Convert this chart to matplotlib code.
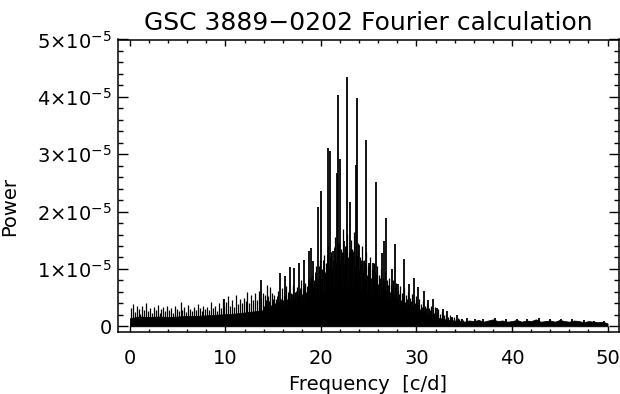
import numpy as np
import matplotlib
matplotlib.use("Agg")
import matplotlib.pyplot as plt
from matplotlib.ticker import FixedLocator, FixedFormatter, MultipleLocator

# ---- data (power in units of 1e-5) ----
# upper edge of the solid noise floor
env_freq = [0, 1, 2, 3, 4, 5, 6, 7, 8, 9, 10, 11, 12, 13, 14, 15, 16, 17, 18, 19,
            20, 21, 22, 23, 24, 25, 26, 27, 28, 29, 30, 31, 32, 33, 34, 34.5, 35,
            35.5, 36, 36.5, 37, 37.5, 38, 38.5, 39, 39.5, 40, 40.5, 41, 41.5, 42,
            42.5, 43, 43.5, 44, 44.5, 45, 45.5, 46, 46.5, 47, 47.5, 48, 48.5, 49,
            49.5, 50]
env_pow = [0.14, 0.17, 0.16, 0.17, 0.16, 0.17, 0.18, 0.18, 0.19, 0.20, 0.21, 0.22,
           0.24, 0.26, 0.28, 0.31, 0.34, 0.38, 0.42, 0.46, 0.54, 0.62, 0.70, 0.70,
           0.64, 0.58, 0.52, 0.45, 0.38, 0.32, 0.27, 0.21, 0.16, 0.12, 0.10, 0.09,
           0.08, 0.10, 0.09, 0.11, 0.08, 0.10, 0.12, 0.09, 0.10, 0.08, 0.09, 0.11,
           0.08, 0.10, 0.09, 0.12, 0.08, 0.09, 0.10, 0.08, 0.11, 0.09, 0.08, 0.10,
           0.09, 0.07, 0.09, 0.08, 0.07, 0.08, 0.05]

# dense background of small peaks
bg_freq = [0.1, 0.3, 0.5, 0.7, 0.9, 1.1, 1.3, 1.5, 1.7, 1.9,
           2.1, 2.3, 2.5, 2.7, 2.9, 3.1, 3.3, 3.5, 3.7, 3.9,
           4.1, 4.3, 4.5, 4.7, 4.9, 5.1, 5.3, 5.5, 5.7, 5.9,
           6.1, 6.3, 6.5, 6.7, 6.9, 7.1, 7.3, 7.5, 7.7, 7.9,
           8.1, 8.3, 8.5, 8.7, 8.9, 9.1, 9.3, 9.5, 9.7, 9.9,
           10.1, 10.3, 10.5, 10.7, 10.9, 11.1, 11.3, 11.5, 11.7, 11.9,
           12.1, 12.3, 12.5, 12.7, 12.9, 13.1, 13.3, 13.5, 13.7, 13.9,
           14.1, 14.3, 14.5, 14.7, 14.9, 15.1, 15.3, 15.5, 15.7, 15.9,
           16.1, 16.3, 16.5, 16.7, 16.9, 17.1, 17.3, 17.5, 17.7, 17.9,
           18.1, 18.3, 18.5, 18.7, 18.9, 19.1, 19.3, 19.5, 19.7, 19.9,
           20.1, 20.3, 20.5, 20.7, 20.9, 21.1, 21.3, 21.5, 21.7, 21.9,
           22.1, 22.3, 22.5, 22.7, 22.9, 23.1, 23.3, 23.5, 23.7, 23.9,
           24.1, 24.3, 24.5, 24.7, 24.9, 25.1, 25.3, 25.5, 25.7, 25.9,
           26.1, 26.3, 26.5, 26.7, 26.9, 27.1, 27.3, 27.5, 27.7, 27.9,
           28.1, 28.3, 28.5, 28.7, 28.9, 29.1, 29.3, 29.5, 29.7, 29.9,
           30.1, 30.3, 30.5, 30.7, 30.9, 31.1, 31.3, 31.5, 31.7, 31.9,
           32.1, 32.3, 32.5, 32.7, 32.9, 33.1, 33.3, 33.5, 33.7, 33.9,
           34.1, 34.3, 34.5, 34.7, 34.9]
bg_pow = [0.32, 0.38, 0.25, 0.36, 0.30, 0.22, 0.35, 0.28, 0.40, 0.26,
          0.31, 0.24, 0.34, 0.29, 0.37, 0.23, 0.30, 0.33, 0.26, 0.35,
          0.28, 0.32, 0.24, 0.36, 0.30, 0.27, 0.42, 0.29, 0.33, 0.25,
          0.37, 0.30, 0.26, 0.34, 0.28, 0.39, 0.31, 0.27, 0.36, 0.30,
          0.33, 0.28, 0.43, 0.31, 0.36, 0.27, 0.40, 0.32, 0.48, 0.35,
          0.42, 0.52, 0.36, 0.45, 0.33, 0.55, 0.38, 0.47, 0.40, 0.50,
          0.44, 0.60, 0.41, 0.54, 0.46, 0.58, 0.45, 0.62, 0.50, 0.58,
          0.55, 0.72, 0.52, 0.68, 0.58, 0.55, 0.48, 0.62, 0.50, 0.66,
          0.52, 0.70, 0.55, 0.64, 0.58, 0.72, 0.60, 0.68, 0.62, 0.80,
          0.66, 0.75, 0.70, 0.85, 0.78, 0.90, 0.80, 1.05, 0.85, 1.15,
          1.00, 1.25, 1.10, 1.40, 1.20, 1.30, 1.15, 1.55, 1.25, 1.45,
          1.35, 1.70, 1.40, 1.60, 1.30, 1.50, 1.35, 1.65, 1.25, 1.45,
          1.20, 1.40, 1.15, 1.30, 1.05, 1.20, 1.00, 1.10, 0.95, 1.05,
          0.90, 1.00, 0.85, 0.95, 0.80, 0.85, 0.72, 0.80, 0.68, 0.75,
          0.62, 0.70, 0.58, 0.66, 0.55, 0.60, 0.50, 0.56, 0.46, 0.52,
          0.42, 0.48, 0.38, 0.44, 0.35, 0.40, 0.32, 0.36, 0.28, 0.33,
          0.25, 0.30, 0.22, 0.26, 0.20, 0.22, 0.17, 0.19, 0.15, 0.16,
          0.13, 0.15, 0.12, 0.13, 0.11]

# second interleaved background set in the active region
bg2_freq = [14.0, 14.2, 14.4, 14.6, 14.8, 15.0, 15.2, 15.4, 15.6, 15.8,
            16.0, 16.2, 16.4, 16.6, 16.8, 17.0, 17.2, 17.4, 17.6, 17.8,
            18.0, 18.2, 18.4, 18.6, 18.8, 19.0, 19.2, 19.4, 19.6, 19.8,
            20.0, 20.2, 20.4, 20.6, 20.8, 21.0, 21.2, 21.4, 21.6, 21.8,
            22.0, 22.2, 22.4, 22.6, 22.8, 23.0, 23.2, 23.4, 23.6, 23.8,
            24.0, 24.2, 24.4, 24.6, 24.8, 25.0, 25.2, 25.4, 25.6, 25.8,
            26.0, 26.2, 26.4, 26.6, 26.8, 27.0, 27.2, 27.4, 27.6, 27.8,
            28.0, 28.2, 28.4, 28.6, 28.8, 29.0, 29.2, 29.4, 29.6, 29.8,
            30.0, 30.2, 30.4, 30.6, 30.8, 31.0, 31.2, 31.4, 31.6, 31.8, 32.0]
bg2_pow = [0.36, 0.45, 0.38, 0.44, 0.37, 0.48, 0.40, 0.52, 0.42, 0.47,
           0.45, 0.55, 0.47, 0.60, 0.48, 0.57, 0.50, 0.62, 0.53, 0.66,
           0.56, 0.70, 0.60, 0.80, 0.66, 0.86, 0.70, 0.95, 0.78, 1.05,
           0.85, 1.15, 0.95, 1.25, 1.05, 1.30, 1.02, 1.38, 1.12, 1.45,
           1.15, 1.30, 1.08, 1.42, 1.20, 1.35, 1.12, 1.32, 1.05, 1.22,
           1.00, 1.15, 0.95, 1.08, 0.90, 1.05, 0.85, 0.98, 0.80, 0.90,
           0.74, 0.85, 0.68, 0.78, 0.63, 0.72, 0.60, 0.67, 0.54, 0.61,
           0.50, 0.57, 0.46, 0.53, 0.42, 0.47, 0.38, 0.44, 0.35, 0.40,
           0.33, 0.37, 0.30, 0.34, 0.27, 0.31, 0.24, 0.28, 0.22, 0.24, 0.19]

# prominent peaks
spike_freq = [9.8, 13.7, 15.7, 16.25, 16.77, 17.2, 17.75, 18.24, 18.7, 18.94, 19.2,
              19.74, 19.99, 20.72, 20.96, 21.24, 21.67, 21.74, 22.01, 22.36, 22.75,
              23.06, 23.69, 23.76, 24.0, 24.4, 24.74, 24.98, 25.44, 25.79, 26.38,
              26.6, 26.83, 27.4, 27.74, 28.1, 28.72, 29.2, 29.7, 30.2, 30.74, 31.2,
              31.7, 32.1, 32.8, 33.2, 33.7, 34.2, 34.8, 35.3, 36.1, 37.0, 38.2,
              39.4, 40.5, 41.6, 42.8, 44.0, 45.1, 46.3, 47.5, 48.6, 49.6]
spike_pow = [0.48, 0.80, 0.93, 0.87, 1.03, 1.02, 1.10, 1.16, 1.31, 1.37, 1.13,
             2.08, 2.35, 3.11, 3.05, 1.31, 2.67, 4.04, 2.92, 1.48, 4.34,
             2.16, 2.82, 3.98, 1.42, 1.13, 3.24, 1.10, 1.10, 2.52, 1.28,
             1.48, 1.89, 0.99, 1.44, 0.73, 1.18, 0.73, 0.84, 0.69, 0.62, 0.45,
             0.47, 0.32, 0.30, 0.26, 0.17, 0.19, 0.12, 0.14, 0.13, 0.12, 0.14,
             0.12, 0.13, 0.12, 0.14, 0.12, 0.13, 0.12, 0.11, 0.10, 0.09]

x_ticks = [0, 10, 20, 30, 40, 50]
y_ticks = [0, 1e-5, 2e-5, 3e-5, 4e-5, 5e-5]
y_ticklabels = ['0', '1×10$^{-5}$', '2×10$^{-5}$', '3×10$^{-5}$',
                '4×10$^{-5}$', '5×10$^{-5}$']

plt.rcParams['font.family'] = ['DejaVu Sans']
plt.rcParams['mathtext.default'] = 'regular'

fig = plt.figure(figsize=(6.2, 3.94), dpi=100)
ax = fig.add_axes([117.5 / 620, (394 - 332) / 394, (619 - 117.5) / 620, (332 - 39.5) / 394])

scale = 1e-5
ax.fill_between(np.array(env_freq), 0, np.array(env_pow) * scale,
                color='black', lw=0.6, edgecolor='black')
ax.vlines(bg_freq, 0, np.array(bg_pow) * scale, color='black', lw=0.9)
ax.vlines(bg2_freq, 0, np.array(bg2_pow) * scale, color='black', lw=0.7)
ax.vlines(spike_freq, 0, np.array(spike_pow) * scale, color='black', lw=1.3)

ax.set_xlim(-1.3, 51.2)
ax.set_ylim(-1e-6, 5e-5)

ax.xaxis.set_major_locator(FixedLocator(x_ticks))
ax.xaxis.set_minor_locator(MultipleLocator(2))
ax.yaxis.set_major_locator(FixedLocator(y_ticks))
ax.yaxis.set_major_formatter(FixedFormatter(y_ticklabels))
ax.yaxis.set_minor_locator(MultipleLocator(2e-6))

ax.tick_params(axis='both', which='both', direction='in', top=True, right=True,
               width=1.0, labelsize=14, colors='black')
ax.tick_params(axis='x', which='major', length=4.5, pad=12)
ax.tick_params(axis='x', which='minor', length=2.2)
ax.tick_params(axis='y', which='major', length=7.5, pad=4)
ax.tick_params(axis='y', which='minor', length=3.8)
for s in ax.spines.values():
    s.set_linewidth(1.1)

ax.set_xlabel('Frequency  [c/d]', fontsize=14, labelpad=5)
ax.set_ylabel('Power', fontsize=14)
ax.yaxis.set_label_coords(-0.196, 0.43)
ax.set_title('GSC 3889\u22120202 Fourier calculation', fontsize=18, pad=7)

fig.savefig('out.png', dpi=100)
